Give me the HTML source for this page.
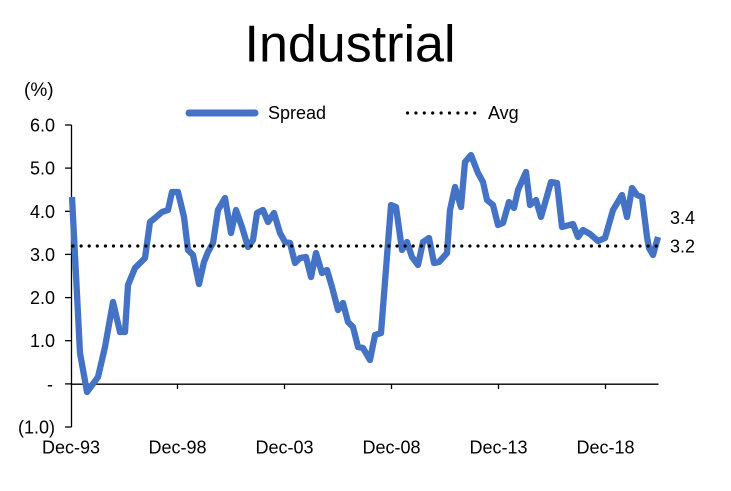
<!DOCTYPE html>
<html>
<head>
<meta charset="utf-8">
<style>
  html, body { margin: 0; padding: 0; background: #ffffff; }
  body { width: 731px; height: 491px; overflow: hidden; }
  svg { display: block; font-family: "Liberation Sans", Arial, sans-serif; }
</style>
</head>
<body>
<svg width="731" height="491" viewBox="0 0 731 491" xmlns="http://www.w3.org/2000/svg">
  <rect x="0" y="0" width="731" height="491" fill="#ffffff"/>
  <!-- Title -->
  <text x="350" y="61.5" font-size="52" text-anchor="middle" fill="#000">Industrial</text>
  <!-- (%) -->
  <text x="24" y="96" font-size="19" fill="#000">(%)</text>

  <!-- Legend -->
  <line x1="189" y1="113" x2="255" y2="113" stroke="#4472C4" stroke-width="7" stroke-linecap="round"/>
  <text x="268" y="119" font-size="18" fill="#000">Spread</text>
  <line x1="407.5" y1="113" x2="475" y2="113" stroke="#000" stroke-width="3.2" stroke-linecap="round" stroke-dasharray="0 8.4"/>
  <text x="488" y="119" font-size="18" fill="#000">Avg</text>

  <!-- Y axis -->
  <line x1="71.5" y1="125" x2="71.5" y2="427" stroke="#000" stroke-width="1.3"/>
  <g stroke="#000" stroke-width="1.3">
    <line x1="65" y1="125" x2="71.5" y2="125"/>
    <line x1="65" y1="168.1" x2="71.5" y2="168.1"/>
    <line x1="65" y1="211.3" x2="71.5" y2="211.3"/>
    <line x1="65" y1="254.4" x2="71.5" y2="254.4"/>
    <line x1="65" y1="297.6" x2="71.5" y2="297.6"/>
    <line x1="65" y1="340.7" x2="71.5" y2="340.7"/>
    <line x1="65" y1="383.9" x2="71.5" y2="383.9"/>
    <line x1="65" y1="427" x2="71.5" y2="427"/>
  </g>
  <g font-size="18" text-anchor="end" fill="#000">
    <text x="55" y="131.5">6.0</text>
    <text x="55" y="174.6">5.0</text>
    <text x="55" y="217.8">4.0</text>
    <text x="55" y="260.9">3.0</text>
    <text x="55" y="304.1">2.0</text>
    <text x="55" y="347.2">1.0</text>
    <text x="53" y="390.4">-</text>
    <text x="55" y="433.5">(1.0)</text>
  </g>

  <!-- X axis -->
  <line x1="71.5" y1="384.2" x2="658.5" y2="384.2" stroke="#000" stroke-width="1.3"/>
  <g stroke="#000" stroke-width="1.3">
    <line x1="177.5" y1="384" x2="177.5" y2="389"/>
    <line x1="284.5" y1="384" x2="284.5" y2="389"/>
    <line x1="391.5" y1="384" x2="391.5" y2="389"/>
    <line x1="498.5" y1="384" x2="498.5" y2="389"/>
    <line x1="605.5" y1="384" x2="605.5" y2="389"/>
  </g>
  <g font-size="18" text-anchor="middle" fill="#000">
    <text x="71" y="453.5">Dec-93</text>
    <text x="177.5" y="453.5">Dec-98</text>
    <text x="284.5" y="453.5">Dec-03</text>
    <text x="391.5" y="453.5">Dec-08</text>
    <text x="498.5" y="453.5">Dec-13</text>
    <text x="605.5" y="453.5">Dec-18</text>
  </g>

  <!-- Spread series -->
  <polyline fill="none" stroke="#4472C4" stroke-width="6.3" stroke-linejoin="round" stroke-linecap="butt"
    points="72,197 80,353 87,392 98,377 105,347 113,302 120,332 125,332 128,285 135,268 145,258 150,222 155,218 162,212 168,210 172,192 178,192 184,217 188,250 193,255 199,284 204,262 208,252 213,243 218,210 225,198 231,233 236,210 242,227 248,247 253,240 257,213 263,210 268,222 274,213 280,233 285,242 290,243 295,263 300,258 306,257 311,277 316,253 322,273 327,270 332,287 338,310 343,303 348,322 353,327 358,347 363,348 370,360 375,335 381,333 391,205 396,207 402,250 407,242 412,257 418,265 423,242 429,238 434,263 439,262 447,253 450,210 455,187 461,207 465,162 471,155 478,173 483,182 487,200 493,205 498,225 503,223 509,202 514,208 518,190 526,172 530,205 536,200 541,217 551,182 557,183 562,227 573,224 578,237 583,230 590,234 598,241 605,238 613,210 622,195 627,217 632,188 637,195 642,197 647,237 649,248 653,255 658,237"/>

  <!-- Avg line -->
  <line x1="73" y1="246" x2="657" y2="246" stroke="#000" stroke-width="3.2" stroke-linecap="round" stroke-dasharray="0 8.1"/>

  <!-- End labels -->
  <text x="670" y="224" font-size="18" fill="#000">3.4</text>
  <text x="670" y="252.5" font-size="18" fill="#000">3.2</text>
</svg>
</body>
</html>
